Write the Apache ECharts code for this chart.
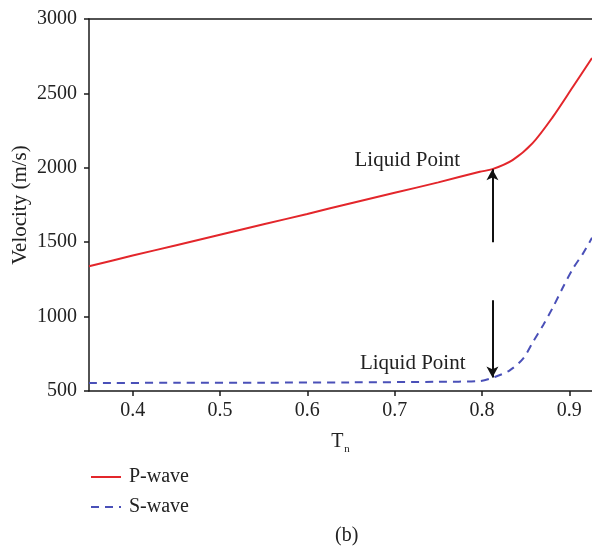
<!DOCTYPE html>
<html>
<head>
<meta charset="utf-8">
<script src="https://cdn.jsdelivr.net/npm/echarts@6/dist/echarts.min.js"></script>
<style>
html,body{margin:0;padding:0;background:#fff;}
#c{width:592px;height:549px;}
</style>
</head>
<body>
<div id="c"></div>
<script>
// ---- data ----
const xTicks = [0.4, 0.5, 0.6, 0.7, 0.8, 0.9];
const tnP = [0.35, 0.40, 0.45, 0.50, 0.55, 0.60, 0.65, 0.70, 0.75, 0.7975, 0.812, 0.835, 0.858, 0.881, 0.904, 0.926];
const pWave = [1339, 1410, 1480, 1550, 1620, 1690, 1762, 1832, 1902, 1973, 1991, 2052, 2166, 2341, 2543, 2738];
const tnS = [0.35, 0.45, 0.55, 0.65, 0.75, 0.7975, 0.8147, 0.8318, 0.8471, 0.8585, 0.870, 0.8815, 0.8929, 0.9044, 0.9158, 0.926];
const sWave = [554, 555, 556, 558, 562, 567, 594, 639, 718, 830, 942, 1065, 1199, 1325, 1425, 1530];
const liquidX = 0.812;
const upperArrow = [1500, 1990];
const lowerArrow = [1110, 590];
const upperLabel = [0.7145, 2052];
const lowerLabel = [0.7207, 686];
const labelText = 'Liquid Point';

const FONT = 'Liberation Serif';
const pData = tnP.map((x, i) => [x, pWave[i]]);
const sData = tnS.map((x, i) => [x, sWave[i]]);

const chart = echarts.init(document.getElementById('c'), null, {renderer: 'canvas'});
const axisLineStyle = {color: '#1a1a1a', width: 1.5};
chart.setOption({
  backgroundColor: '#fff',
  animation: false,
  textStyle: {fontFamily: FONT},
  grid: {left: 89, right: 0, top: 19, bottom: 158, containLabel: false, outerBoundsMode: 'none'},
  title: {text: '(b)', left: 330, top: 521, textStyle: {fontFamily: FONT, fontSize: 20, fontWeight: 'normal', color: '#222'}},
  legend: {
    orient: 'vertical', left: 85, top: 462, itemWidth: 30, itemHeight: 14, itemGap: 10,
    itemStyle: {opacity: 0},
    textStyle: {fontFamily: FONT, fontSize: 20, color: '#222', padding: [0, 0, 0, 3]},
    data: [{name: 'P-wave'}, {name: 'S-wave'}]
  },
  xAxis: [{
    type: 'value', min: 0.35, max: 0.926,
    name: 'T{sub|n}', nameLocation: 'middle', nameGap: 38,
    nameTextStyle: {fontFamily: FONT, fontSize: 20, color: '#222', rich: {sub: {fontFamily: FONT, fontSize: 11, color: '#222', padding: [15, 0, 0, 1]}}},
    axisLine: {show: true, onZero: false, lineStyle: axisLineStyle},
    axisTick: {show: true, length: 5, lineStyle: axisLineStyle, customValues: xTicks},
    axisLabel: {fontFamily: FONT, fontSize: 20, color: '#222', margin: 10, customValues: xTicks, formatter: v => v.toFixed(1)},
    splitLine: {show: false}
  }, {
    type: 'value', position: 'top', min: 0.35, max: 0.926,
    axisLine: {show: true, onZero: false, lineStyle: axisLineStyle},
    axisTick: {show: false}, axisLabel: {show: false}, splitLine: {show: false}
  }],
  yAxis: {
    type: 'value', min: 500, max: 3000, interval: 500,
    name: 'Velocity (m/s)', nameLocation: 'middle', nameGap: 58, nameMoveOverlap: false,
    nameTextStyle: {fontFamily: FONT, fontSize: 21, color: '#222'},
    axisLine: {show: true, onZero: false, lineStyle: axisLineStyle},
    axisTick: {show: true, length: 5, lineStyle: axisLineStyle},
    axisLabel: {fontFamily: FONT, fontSize: 20, color: '#222', margin: 12, formatter: v => String(v)},
    splitLine: {show: false}
  },
  series: [{
    name: 'P-wave', type: 'line', data: pData, smooth: 0.3, showSymbol: false, symbol: 'none',
    lineStyle: {color: '#e3262b', width: 2}, itemStyle: {color: '#e3262b'},
    markLine: {
      silent: true, symbol: ['none', 'arrow'], symbolSize: [9, 11],
      lineStyle: {color: '#111', width: 2, type: 'solid'}, label: {show: false},
      data: [[{coord: [liquidX, upperArrow[0]]}, {coord: [liquidX, upperArrow[1]]}]]
    },
    markPoint: {
      silent: true, symbol: 'circle', symbolSize: 0,
      label: {show: true, position: 'inside', formatter: labelText, fontFamily: FONT, fontSize: 21, color: '#222'},
      data: [{coord: upperLabel}]
    }
  }, {
    name: 'S-wave', type: 'line', data: sData, smooth: 0.3, showSymbol: false, symbol: 'none',
    lineStyle: {color: '#4a50b8', width: 2, type: [8, 6]}, itemStyle: {color: '#4a50b8'},
    markLine: {
      silent: true, symbol: ['none', 'arrow'], symbolSize: [9, 11],
      lineStyle: {color: '#111', width: 2, type: 'solid'}, label: {show: false},
      data: [[{coord: [liquidX, lowerArrow[0]]}, {coord: [liquidX, lowerArrow[1]]}]]
    },
    markPoint: {
      silent: true, symbol: 'circle', symbolSize: 0,
      label: {show: true, position: 'inside', formatter: labelText, fontFamily: FONT, fontSize: 21, color: '#222'},
      data: [{coord: lowerLabel}]
    }
  }]
});
</script>
</body>
</html>
